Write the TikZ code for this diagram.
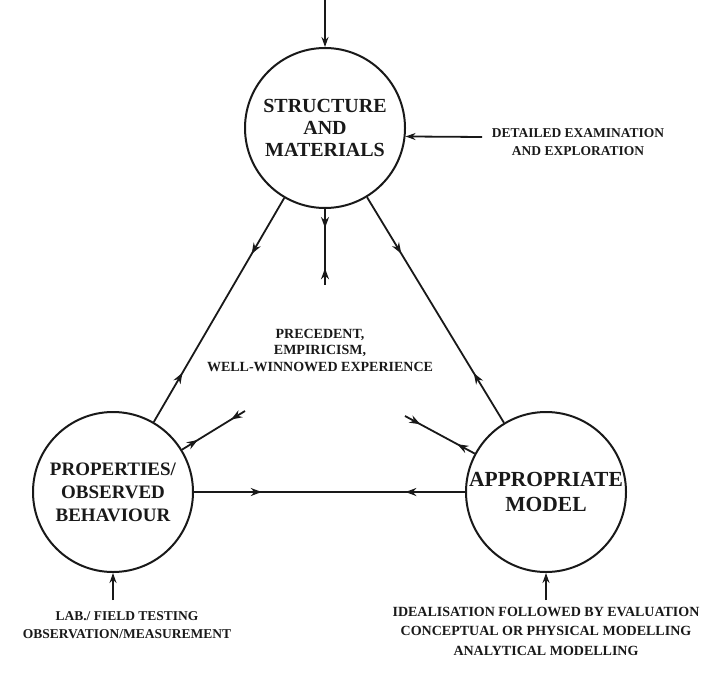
\documentclass[tikz,border=0pt]{standalone}
\usepackage{fontspec}
\setmainfont{Liberation Serif}
\usetikzlibrary{positioning, arrows.meta, decorations.markings}

\tikzset{
  phase/.style={circle, draw, line width=2pt, minimum size=160pt, inner sep=0pt, align=center},
  note/.style={align=center, font=\bfseries\fontsize{13.5pt}{18.5pt}\selectfont},
  twoway/.style={postaction={decorate}, decoration={markings,
      mark=at position 0.25 with {\arrow{Stealth[length=11pt,width=8pt]}},
      mark=at position 0.78 with {\arrowreversed{Stealth[length=11pt,width=8pt]}}}},
  feed/.style={-{Stealth[length=10pt,width=7pt]}},
}

\begin{document}
\begin{tikzpicture}[x=1pt, y=-1pt, on grid, line width=1.8pt, black!90]
    \useasboundingbox (0,0) rectangle (703,682);

    % the three circles
    \node[phase, font=\bfseries\fontsize{20pt}{22pt}\selectfont] (sm) at (325,128) {STRUCTURE\\AND\\MATERIALS};
    \node[phase, font=\bfseries\fontsize{19pt}{23pt}\selectfont] (pr) [below left=364pt and 212pt of sm] {PROPERTIES/\\OBSERVED\\BEHAVIOUR};
    \node[phase, font=\bfseries\fontsize{21.5pt}{25pt}\selectfont] (am) [below right=364pt and 221pt of sm] {APPROPRIATE\\MODEL};

    % free ends
    \coordinate[above=128pt of sm] (topin);
    \coordinate[below right=9pt and 157pt of sm] (detin);
    \coordinate[below=108pt of pr] (labin);
    \coordinate[below=108pt of am] (idein);
    \coordinate[below=157pt of sm] (cstub);
    \coordinate[above right=81pt and 132pt of pr] (lstub);
    \coordinate[above left=76pt and 141pt of am] (rstub);

    % labels
    \node[note, font=\bfseries\fontsize{14pt}{16.5pt}\selectfont] (prec) [below=222pt of sm, xshift=-5pt] {PRECEDENT,\\EMPIRICISM,\\WELL-WINNOWED EXPERIENCE};
    \node[note] (det) [below right=14pt and 253pt of sm] {DETAILED EXAMINATION\\AND EXPLORATION};
    \node[note] (lab) [below right=133pt and 14pt of pr] {LAB./ FIELD TESTING\\OBSERVATION/MEASUREMENT};
    \node[note, font=\bfseries\fontsize{14pt}{19.5pt}\selectfont] (ide) [below=139pt of am] {IDEALISATION FOLLOWED BY EVALUATION\\CONCEPTUAL OR PHYSICAL MODELLING\\ANALYTICAL MODELLING};

    \draw[twoway] (sm) -- (pr);
    \draw[twoway] (sm) -- (am);
    \draw[twoway] (pr) -- (am);
    \draw[twoway] (sm) -- (cstub);
    \draw[twoway] (pr) -- (lstub);
    \draw[twoway] (am) -- (rstub);

    \draw[feed] (topin) -- (sm);
    \draw[feed] (detin) -- (sm.-6.5);
    \draw[feed] (labin) -- (pr);
    \draw[feed] (idein) -- (am);
\end{tikzpicture}
\end{document}
